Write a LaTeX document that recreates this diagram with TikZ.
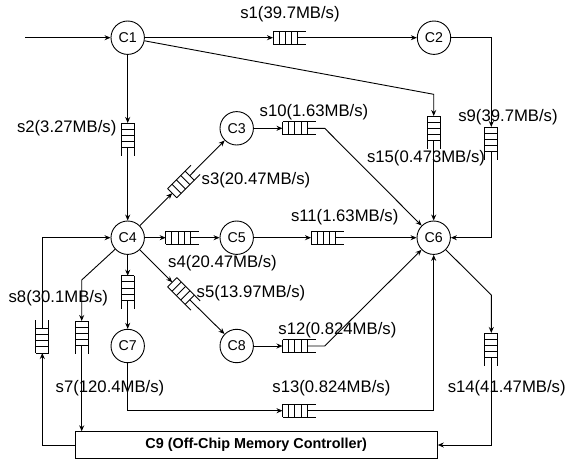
\documentclass[tikz,border=0pt]{standalone}
\usepackage{fontspec}
\setmainfont{Liberation Sans}
\usetikzlibrary{arrows.meta}
\tikzset{
  fifo/.pic={
    \draw (0,-6.5) -- (33,-6.5) (0,6.5) -- (33,6.5);
    \foreach \i in {0,1,2,3,4} \draw (\i*6.2,-6.5) -- (\i*6.2,6.5);
    \coordinate (-in) at (0,0);
    \coordinate (-out) at (24.8,0);
  }
}
\begin{document}
\begin{tikzpicture}[x=1pt,y=-1pt,line width=0.9pt,
  comp/.style={draw, circle, minimum size=33.4pt, inner sep=0pt, font=\fontsize{14.2}{16}\selectfont},
  mem/.style={draw, rectangle, minimum width=362.3pt, minimum height=26.5pt, inner sep=0pt, font=\fontsize{14.4}{16}\selectfont\bfseries},
  lbl/.style={font=\fontsize{16.7}{19}\selectfont, inner sep=0pt},
  arr/.style={-{Stealth[length=6pt,width=5pt]}},
]
\useasboundingbox (0,0) rectangle (566,464);

% components
\node[comp] (C1) at (127.7,37.7) {C1};
\node[comp] (C2) at (434,37.7) {C2};
\node[comp] (C3) at (236.7,128.3) {C3};
\node[comp] (C4) at (127.7,237.7) {C4};
\node[comp] (C5) at (236.7,237.7) {C5};
\node[comp] (C6) at (433.7,237.7) {C6};
\node[comp] (C7) at (127.7,346) {C7};
\node[comp] (C8) at (236.7,346) {C8};
\node[mem] (C9) at (256.2,445) {C9 (Off-Chip Memory Controller)};

% queues
\pic (q1) at (273,37.7) {fifo};
\pic[rotate=-90] (q2) at (127.7,123) {fifo};
\pic[rotate=45] (q3) at (172.2,193.2) {fifo};
\pic (q4) at (165.7,237.7) {fifo};
\pic[rotate=-45] (q5) at (172.2,282.2) {fifo};
\pic[rotate=-90] (q6) at (127.7,275.7) {fifo};
\pic[rotate=-90] (q7) at (81.7,321) {fifo};
\pic[rotate=90] (q8) at (42.3,353) {fifo};
\pic[rotate=-90] (q9) at (491.3,127) {fifo};
\pic (q10) at (282.5,128.3) {fifo};
\pic (q11) at (311,237.7) {fifo};
\pic (q12) at (282.5,346) {fifo};
\pic (q13) at (282.5,410.7) {fifo};
\pic[rotate=-90] (q14) at (491.3,333) {fifo};
\pic[rotate=-90] (q15) at (433.7,116) {fifo};

% bend points
\coordinate (in0) at (25,37.7);
\coordinate (b15) at (433.7,94.3);
\coordinate (b9a) at (491.3,37.7);
\coordinate (b9b) at (491.3,237.7);
\coordinate (b10) at (324.7,128.3);
\coordinate (b12) at (324.7,346);
\coordinate (b13a) at (127.7,410.7);
\coordinate (b13b) at (433.7,410.7);
\coordinate (b14a) at (491.3,295);
\coordinate (b14b) at (491.3,445);
\coordinate (b7) at (81.7,280);
\coordinate (b8a) at (42.3,445);
\coordinate (b8b) at (42.3,237.7);

% connectors
\draw[arr] (in0) -- (C1);
\draw[arr] (C1) -- (q1-in);  \draw[arr] (q1-out) -- (C2);
\draw[arr] (C1) -- (q2-in);  \draw[arr] (q2-out) -- (C4);
\draw[arr] (C4) -- (q3-in);  \draw[arr] (q3-out) -- (C3);
\draw[arr] (C4) -- (q4-in);  \draw[arr] (q4-out) -- (C5);
\draw[arr] (C4) -- (q5-in);  \draw[arr] (q5-out) -- (C8);
\draw[arr] (C4) -- (q6-in);  \draw[arr] (q6-out) -- (C7);
\draw[arr] (C4) -- (b7) -- (q7-in);  \draw[arr] (q7-out) -- (q7-out |- C9.north);
\draw[arr] (C9.west) -- (b8a) -- (q8-in);  \draw[arr] (q8-out) -- (b8b) -- (C4);
\draw[arr] (C2) -- (b9a) -- (q9-in);  \draw[arr] (q9-out) -- (b9b) -- (C6);
\draw[arr] (C3) -- (q10-in);  \draw[arr] (q10-out) -- (b10) -- (C6);
\draw[arr] (C5) -- (q11-in);  \draw[arr] (q11-out) -- (C6);
\draw[arr] (C8) -- (q12-in);  \draw[arr] (q12-out) -- (b12) -- (C6);
\draw[arr] (C7) -- (b13a) -- (q13-in);  \draw[arr] (q13-out) -- (b13b) -- (C6);
\draw[arr] (C6) -- (b14a) -- (q14-in);  \draw[arr] (q14-out) -- (b14b) -- (C9.east);
\draw[arr] (C1) -- (b15) -- (q15-in);  \draw[arr] (q15-out) -- (C6);

% labels
\node[lbl] (l1) at (290,14) {s1(39.7MB/s)};
\node[lbl] (l2) at (66.7,128) {s2(3.27MB/s)};
\node[lbl] (l3) at (256,180) {s3(20.47MB/s)};
\node[lbl] (l4) at (222.5,262.7) {s4(20.47MB/s)};
\node[lbl] (l5) at (251,292.7) {s5(13.97MB/s)};
\node[lbl] (l7) at (110,388.3) {s7(120.4MB/s)};
\node[lbl] (l8) at (58.3,298.3) {s8(30.1MB/s)};
\node[lbl] (l9) at (508,116.7) {s9(39.7MB/s)};
\node[lbl] (l10) at (314,111.7) {s10(1.63MB/s)};
\node[lbl] (l11) at (344.7,217.3) {s11(1.63MB/s)};
\node[lbl] (l12) at (337.4,330) {s12(0.824MB/s)};
\node[lbl] (l13) at (331.4,388.3) {s13(0.824MB/s)};
\node[lbl] (l14) at (506.7,388.3) {s14(41.47MB/s)};
\node[lbl] (l15) at (426,158) {s15(0.473MB/s)};
\end{tikzpicture}
\end{document}
